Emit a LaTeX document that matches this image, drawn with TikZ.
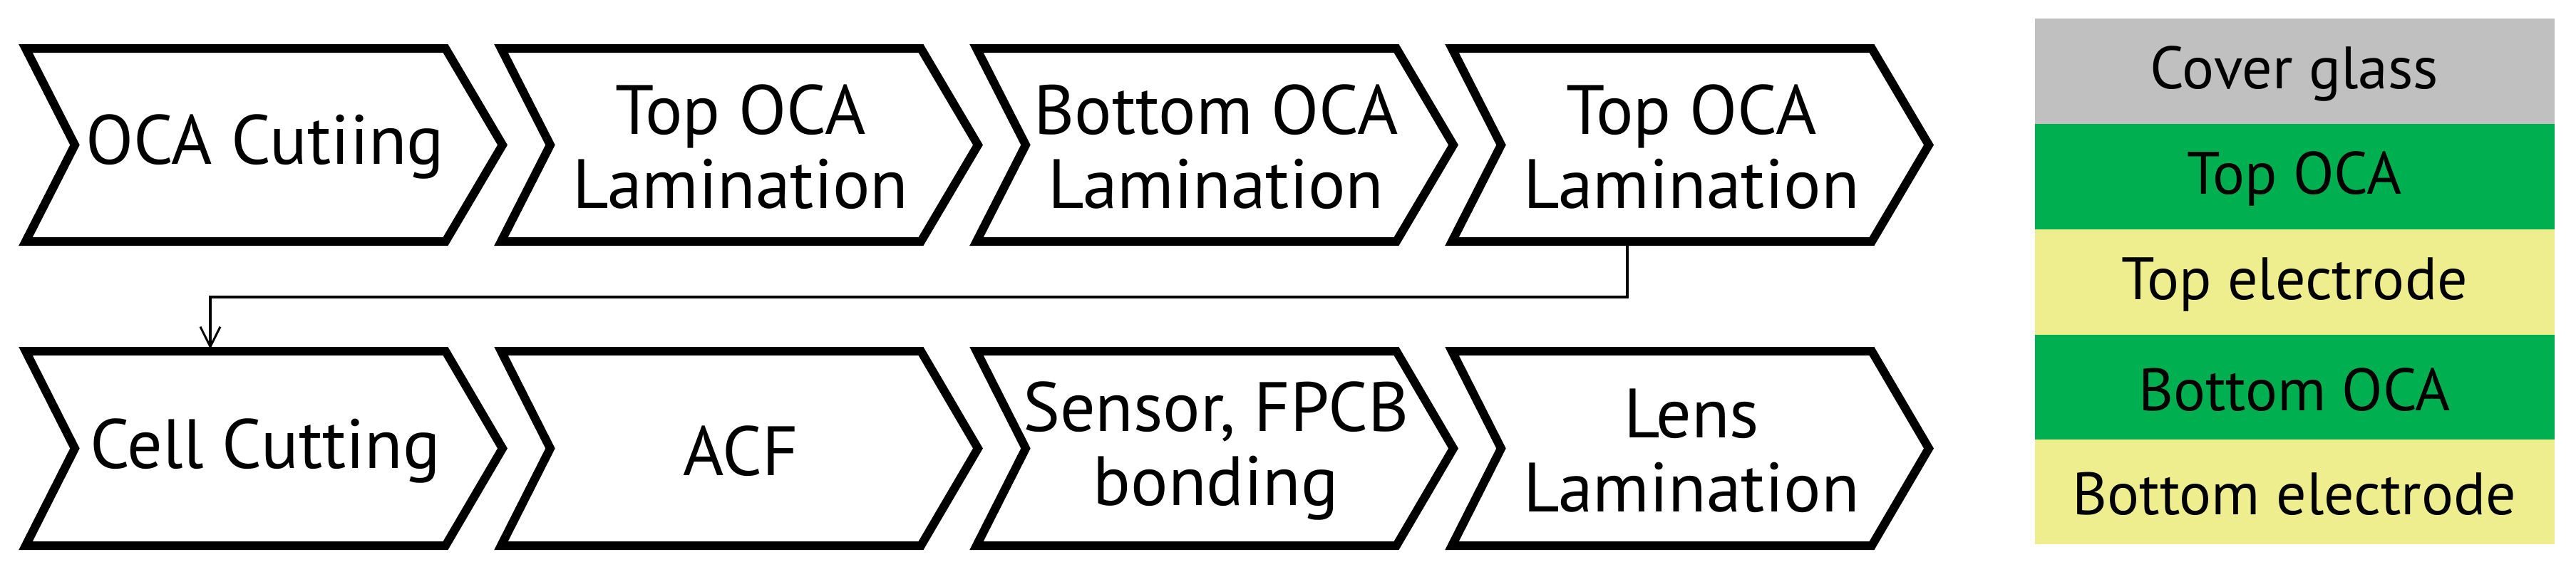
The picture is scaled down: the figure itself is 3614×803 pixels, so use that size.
\documentclass[tikz,border=0pt]{standalone}
\usepackage{fontspec}
\usetikzlibrary{arrows.meta}
\setmainfont{PT Sans}
\definecolor{glass}{RGB}{192,192,192}
\definecolor{oca}{RGB}{0,176,80}
\definecolor{elec}{RGB}{238,238,142}
\begin{document}
\begin{tikzpicture}[x=0.5pt,y=-0.5pt,
  chev/.style={line width=6pt,line join=miter,draw=black,fill=white},
  lbl/.style={align=center,font=\fontsize{49}{52}\selectfont,inner sep=0pt},
  lay/.style={font=\fontsize{42}{44}\selectfont,inner sep=0pt},
  conn/.style={line width=2pt,-{Straight Barb[length=14pt,width=14pt,line width=1.5pt]}}]
\useasboundingbox (0,0) rectangle (3614,803);
\foreach \k/\t/\b in {0/68/339,1/68/339,2/68/339,3/68/339,0/493/766,1/493/766,2/493/766,3/493/766}{
  \pgfmathsetmacro\L{36+667*\k}
  \draw[chev] (\L,\t) -- (\L+589,\t) -- (\L+669,{(\t+\b)/2}) -- (\L+589,\b) -- (\L,\b) -- (\L+69,{(\t+\b)/2}) -- cycle;
}
\node[lbl] (a1) at (372,206) {OCA Cutiing};
\node[lbl] (a2) at (1039,206) {Top OCA\\Lamination};
\node[lbl] (a3) at (1706,206) {Bottom OCA\\Lamination};
\node[lbl] (a4) at (2373,206) {Top OCA\\Lamination};
\node[lbl] (b1) at (372,633) {Cell Cutting};
\node[lbl] (b2) at (1039,633) {ACF};
\node[lbl] (b3) at (1706,633) {Sensor, FPCB\\bonding};
\node[lbl] (b4) at (2373,633) {Lens\\Lamination};
\coordinate (s) at (2283,342);
\coordinate (e) at (295,490);
\draw[conn] (s) |- (1200,417) -| (e);
\fill[glass] (2855,26) rectangle (3584,174);
\fill[oca] (2855,174) rectangle (3584,322);
\fill[elec] (2855,322) rectangle (3584,470);
\fill[oca] (2855,470) rectangle (3584,617);
\fill[elec] (2855,617) rectangle (3584,764);
\node[lay] (l1) at (3219,103) {Cover glass};
\node[lay] (l2) at (3219,251) {Top OCA};
\node[lay] (l3) at (3219,399) {Top electrode};
\node[lay] (l4) at (3219,547) {Bottom OCA};
\node[lay] (l5) at (3219,693) {Bottom electrode};
\end{tikzpicture}
\end{document}
